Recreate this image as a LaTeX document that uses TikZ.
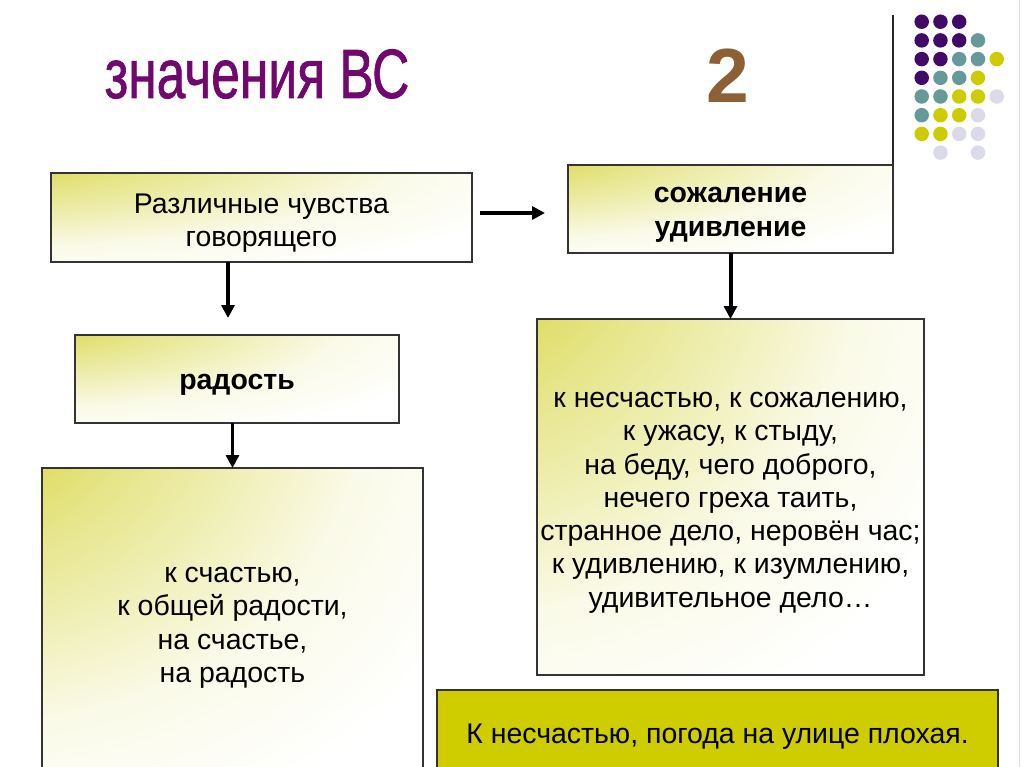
\documentclass[tikz,border=0pt]{standalone}
\usepackage{fontspec}
\setmainfont{Liberation Sans}
\newfontfamily\titlefont{Liberation Sans}[FakeBold=1.2]
\usetikzlibrary{arrows.meta}
\definecolor{gradyellow}{RGB}{206,204,22}
\definecolor{boxyellow}{RGB}{207,204,0}
\definecolor{titlepurple}{RGB}{112,8,112}
\definecolor{twobrown}{RGB}{140,96,52}
\definecolor{dotA}{RGB}{66,10,104}
\definecolor{dotB}{RGB}{102,153,153}
\definecolor{dotC}{RGB}{204,204,0}
\definecolor{dotD}{RGB}{218,218,235}
\pgfdeclareradialshading{cornerglow}{\pgfpoint{-50bp}{50bp}}{%
  color(0bp)=(gradyellow); color(10bp)=(gradyellow); color(30bp)=(gradyellow!50!white);
  color(50bp)=(gradyellow!10!white); color(65bp)=(white); color(150bp)=(white)}

\begin{document}
\begin{tikzpicture}[x=0.703125pt,y=-0.703125pt,
  box/.style={draw=black!80,line width=0.8pt,inner sep=0pt,outer sep=0pt,shading=cornerglow},
  arr/.style={line width=2.8pt,-{Triangle[length=9pt,width=9pt]}},
  txt/.style={font=\fontsize{20}{23.4}\selectfont,align=center,yshift=-4pt},
  btxt/.style={txt,font=\fontsize{20}{23.4}\selectfont\bfseries}]
  \def\u{0.703125pt}
  \clip (0,0) rectangle (1024,767);
  % title and number
  \node[font=\fontsize{49}{49}\selectfont\titlefont,text=titlepurple,anchor=base] (title) at (257,98)
    {\scalebox{0.74}[1]{значения ВС}};
  \node[font=\fontsize{54}{54}\selectfont\bfseries,text=twobrown,anchor=base] (two) at (728,103) {2};
  % corner decoration
  \draw[line width=1.2pt,black!85] (893,15) -- (893,185);
  \draw[black!12,line width=0.6pt] (1019,0) -- (1019,767);
  \foreach \c/\r/\col in {1/1/dotA,2/1/dotA,3/1/dotA,
      1/2/dotA,2/2/dotA,3/2/dotA,4/2/dotB,
      1/3/dotA,2/3/dotA,3/3/dotB,4/3/dotB,5/3/dotC,
      1/4/dotA,2/4/dotB,3/4/dotB,4/4/dotC,
      1/5/dotB,2/5/dotB,3/5/dotC,4/5/dotC,5/5/dotD,
      1/6/dotB,2/6/dotC,3/6/dotC,4/6/dotD,
      1/7/dotC,2/7/dotC,3/7/dotD,4/7/dotD,
      2/8/dotD,4/8/dotD}
    \fill[\col] ({921.7+(\c-1)*18.75},{21.7+(\r-1)*18.7}) circle[radius=5.1pt];
  % boxes
  \node[box,shade,minimum width=421*\u,minimum height=89*\u] (feel) at (261.5,217.5) {};
  \node[box,shade,minimum width=325*\u,minimum height=88*\u] (regret) at (730.5,209) {};
  \node[box,shade,minimum width=324*\u,minimum height=88*\u] (joy) at (237,379) {};
  \node[box,shade,minimum width=387*\u,minimum height=356*\u] (bad) at (730.5,497) {};
  \node[box,shade,minimum width=381*\u,minimum height=308*\u] (good) at (232.5,622) {};
  \node[draw=black!80,line width=0.8pt,fill=boxyellow,inner sep=0pt,
    minimum width=561*\u,minimum height=82*\u] (example) at (717.5,731) {};
  % texts
  \node[txt] (feeltext) at (feel) {Различные чувства\\ говорящего};
  \node[btxt] (regrettext) at (regret) {сожаление\\ удивление};
  \node[btxt] (joytext) at (joy) {радость};
  \node[txt] (badtext) at (bad)
    {к несчастью, к сожалению,\\ к ужасу, к стыду,\\ на беду, чего доброго,\\
     нечего греха таить,\\ странное дело, неровён час;\\ к удивлению, к изумлению,\\
     удивительное дело…};
  \node[txt] (goodtext) at (good) {к счастью,\\ к общей радости,\\ на счастье,\\ на радость};
  \node[txt] (exampletext) at (example) {К несчастью, погода на улице плохая.};
  % arrows
  \coordinate (aR) at (545,213);
  \coordinate (aD) at (228,318);
  \draw[arr,shorten <=5.6pt] (feel.east |- aR) -- (aR);
  \draw[arr] (feel.south -| aD) -- (aD);
  \draw[arr] (regret.south) -- (regret.south |- bad.north);
  \draw[arr] (good.north |- joy.south) -- (good.north);
\end{tikzpicture}
\end{document}
